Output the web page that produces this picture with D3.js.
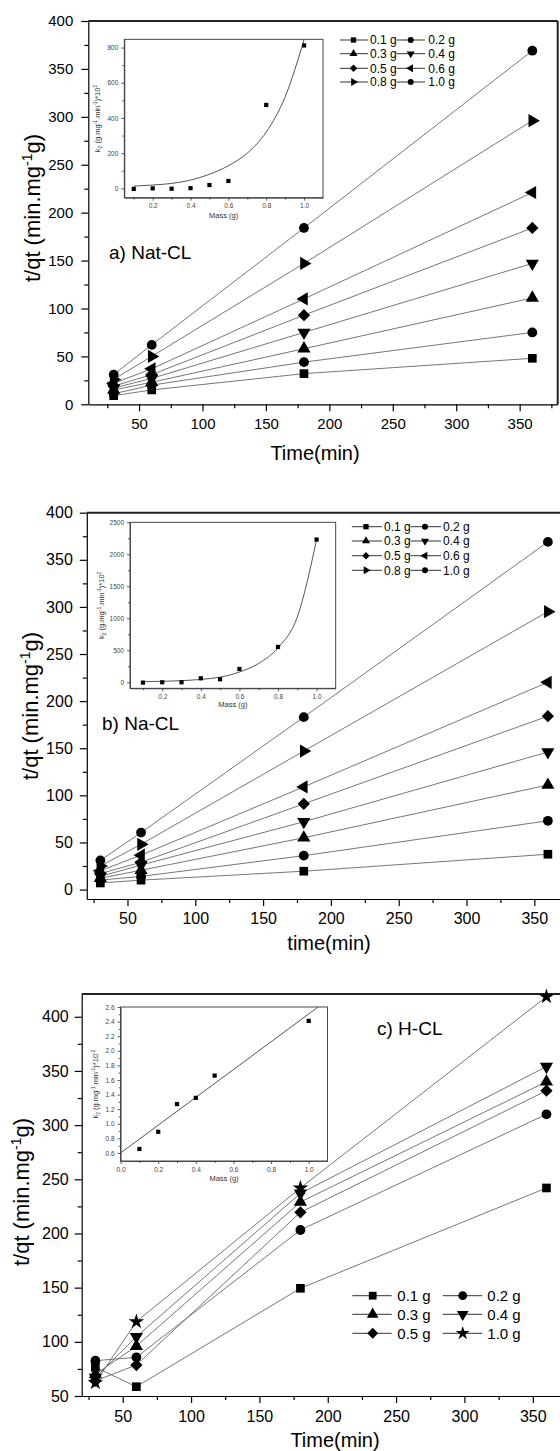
<!DOCTYPE html>
<html>
<head>
<meta charset="utf-8">
<script src="https://cdn.jsdelivr.net/npm/d3@7"></script>
<style>
  body { margin: 0; background: #fff; }
  svg { display: block; font-family: "Liberation Sans", Arial, sans-serif; }
</style>
</head>
<body>
<div id="chart"></div>
<script>
// contact times (min), shared by the three panels
const times = [30, 60, 180, 360];

// a) Nat-CL : t/qt for each adsorbent mass
const natMasses = ["0.1 g", "0.2 g", "0.3 g", "0.4 g", "0.5 g", "0.6 g", "0.8 g", "1.0 g"];
const natValues = [
  [9, 15, 32, 48],
  [11, 20, 44, 75],
  [15, 23, 58, 111],
  [17, 27, 75, 147],
  [19, 31, 93, 184],
  [22, 37, 110, 221],
  [26, 50, 147, 296],
  [31, 62, 184, 369]
];
// inset a) k2 vs mass
const natInsetMass = [0.1, 0.2, 0.3, 0.4, 0.5, 0.6, 0.8, 1.0];
const natInsetK = [-3, 0, -2, 1, 19, 42, 474, 812];
const natFitMass = [0.1, 0.2, 0.3, 0.4, 0.5, 0.6, 0.7, 0.8, 0.9, 1.0];
const natFitK = [13, 19, 28, 47, 80, 129, 200, 320, 520, 845];

// b) Na-CL
const naMasses = ["0.1 g", "0.2 g", "0.3 g", "0.4 g", "0.5 g", "0.6 g", "0.8 g", "1.0 g"];
const naValues = [
  [7, 10, 19.5, 37.5],
  [10, 14, 36, 73],
  [12, 20.5, 55, 111],
  [14, 26, 72, 146],
  [17, 29, 91, 184],
  [20, 36.5, 109, 220],
  [25, 48, 147, 295],
  [31, 60.5, 183, 369]
];
const naInsetMass = [0.1, 0.2, 0.3, 0.4, 0.5, 0.6, 0.8, 1.0];
const naInsetK = [-5, 0, 0, 62, 47, 208, 552, 2230];
const naFitMass = [0.1, 0.2, 0.3, 0.4, 0.5, 0.6, 0.7, 0.8, 0.9, 1.0];
const naFitK = [10, 15, 25, 45, 80, 160, 295, 540, 1020, 2230];

// c) H-CL
const hMasses = ["0.1 g", "0.2 g", "0.3 g", "0.4 g", "0.5 g", "1.0 g"];
const hValues = [
  [76.5, 58.6, 149.4, 242],
  [82.6, 85.7, 203.2, 310],
  [70, 96, 229, 340],
  [67, 104.7, 237, 354],
  [64, 78.6, 219.5, 331.8],
  [62.3, 118.6, 242, 418.5]
];
const hInsetMass = [0.1, 0.2, 0.3, 0.4, 0.5, 1.0];
const hInsetK = [0.655, 0.89, 1.27, 1.355, 1.66, 2.41];
const hFitMass = [0, 1.05];
const hFitK = [0.6, 2.6];

const W = 560, H = 1451;
const svg = d3.select("#chart").append("svg")
    .attr("width", W)
    .attr("height", H);

//marker path for a named shape
function marker(shape, size)
{
    let type = d3.symbolSquare, rot = 0;
    if (shape === "circle") type = d3.symbolCircle;
    else if (shape === "up") type = d3.symbolTriangle;
    else if (shape === "down") { type = d3.symbolTriangle; rot = 180; }
    else if (shape === "left") { type = d3.symbolTriangle; rot = -90; }
    else if (shape === "right") { type = d3.symbolTriangle; rot = 90; }
    else if (shape === "diamond") { type = d3.symbolSquare; rot = 45; }
    else if (shape === "star") type = d3.symbolStar;
    return {d: d3.symbol().type(type).size(size)(), rot: rot};
}

function drawMarker(g, shape, size, x, y)
{
    let m = marker(shape, size);
    g.append("path")
        .attr("d", m.d)
        .attr("transform", `translate(${x},${y}) rotate(${m.rot})`)
        .attr("fill", "#000");
}

function styleAxis(ag, fontSize)
{
    ag.attr("font-family", null).attr("font-size", fontSize);
    ag.selectAll("path, line").attr("stroke", "#000").attr("stroke-width", 1.2);
}

function drawPanel(p)
{
    let g = svg.append("g");

    let x = d3.scaleLinear().domain(p.xDomain).range(p.xRange);
    let y = d3.scaleLinear().domain(p.yDomain).range(p.yRange);
    let x0 = p.xRange[0], y0 = p.yRange[0];

    ///////// Axes
    let xa = g.append("g").attr("transform", `translate(0,${y0})`)
        .call(d3.axisBottom(x).tickValues(p.xMajor).tickSize(7).tickSizeOuter(0)
            .tickPadding(p.xPad).tickFormat(d3.format("d")));
    styleAxis(xa, p.tickFont);
    let xm = g.append("g").attr("transform", `translate(0,${y0})`)
        .call(d3.axisBottom(x).tickValues(p.xMinor).tickSize(4).tickFormat(""));
    xm.select(".domain").remove();
    styleAxis(xm, p.tickFont);

    let ya = g.append("g").attr("transform", `translate(${x0},0)`)
        .call(d3.axisLeft(y).tickValues(p.yMajor).tickSize(7).tickSizeOuter(0)
            .tickPadding(p.yPad).tickFormat(d3.format("d")));
    styleAxis(ya, p.tickFont);
    let ym = g.append("g").attr("transform", `translate(${x0},0)`)
        .call(d3.axisLeft(y).tickValues(p.yMinor).tickSize(4).tickFormat(""));
    ym.select(".domain").remove();
    styleAxis(ym, p.tickFont);

    // top and right frame
    g.append("line")
        .attr("x1", x0).attr("x2", p.xRange[1])
        .attr("y1", p.yRange[1]).attr("y2", p.yRange[1])
        .attr("stroke", "#222").attr("stroke-width", 2);
    g.append("line")
        .attr("x1", p.xRange[1]).attr("x2", p.xRange[1])
        .attr("y1", p.yRange[1]).attr("y2", y0)
        .attr("stroke", "#222").attr("stroke-width", 2);

    ///////// Axis titles
    let yt = g.append("text")
        .attr("transform", `translate(${p.yTitle[0]},${p.yTitle[1]}) rotate(-90)`)
        .attr("text-anchor", "middle")
        .attr("font-size", 22);
    yt.append("tspan").text("t/qt (min.mg");
    yt.append("tspan").attr("dy", -8).attr("font-size", 14).text("-1");
    yt.append("tspan").attr("dy", 8).text("g)");

    g.append("text")
        .attr("x", p.xTitle[0]).attr("y", p.xTitle[1])
        .attr("text-anchor", "middle")
        .attr("font-size", 20)
        .text(p.xLabel);

    g.append("text")
        .attr("x", p.tag[0]).attr("y", p.tag[1])
        .attr("font-size", 19)
        .text(p.tagText);

    ///////// Inset
    drawInset(g, p.inset);

    ///////// Series lines + markers
    let line = d3.line().x((d, i) => x(times[i])).y(d => y(d));
    p.values.forEach((vals, s) =>
    {
        g.append("path")
            .attr("d", line(vals))
            .attr("fill", "none")
            .attr("stroke", "#666")
            .attr("stroke-width", 0.9);
    });
    p.values.forEach((vals, s) =>
    {
        vals.forEach((v, i) => drawMarker(g, p.shapes[s], p.markSize, x(times[i]), y(v)));
    });

    ///////// Legend
    let L = p.legend;
    p.masses.forEach((m, i) =>
    {
        let col = i % 2, row = Math.floor(i / 2);
        let ly = L.rows[row];
        let c = L.cols[col];
        g.append("line")
            .attr("x1", c[0]).attr("x2", c[1])
            .attr("y1", ly).attr("y2", ly)
            .attr("stroke", "#333").attr("stroke-width", 1);
        drawMarker(g, p.shapes[i], L.size, c[2], ly);
        g.append("text")
            .attr("x", c[3]).attr("y", ly)
            .attr("dy", "0.35em")
            .attr("font-size", L.font)
            .text(m);
    });
}

function drawInset(g, q)
{
    let x = d3.scaleLinear().domain(q.xDomain).range(q.xRange);
    let y = d3.scaleLinear().domain(q.yDomain).range(q.yRange);
    let ig = g.append("g");

    ig.append("rect")
        .attr("x", q.xRange[0]).attr("y", q.yRange[1])
        .attr("width", q.xRange[1] - q.xRange[0])
        .attr("height", q.yRange[0] - q.yRange[1])
        .attr("fill", "#fff")
        .attr("stroke", "#333")
        .attr("stroke-width", 0.9);

    let clipId = "clip" + q.id;
    ig.append("clipPath").attr("id", clipId)
        .append("rect")
        .attr("x", q.xRange[0]).attr("y", q.yRange[1])
        .attr("width", q.xRange[1] - q.xRange[0])
        .attr("height", q.yRange[0] - q.yRange[1]);

    let fmtX = d3.format(".1f");
    let xa = ig.append("g").attr("transform", `translate(0,${q.yRange[0]})`)
        .call(d3.axisBottom(x).tickValues(q.xMajor).tickSize(3).tickSizeOuter(0).tickPadding(3).tickFormat(fmtX));
    let xm = ig.append("g").attr("transform", `translate(0,${q.yRange[0]})`)
        .call(d3.axisBottom(x).tickValues(q.xMinor).tickSize(2).tickFormat(""));
    let ya = ig.append("g").attr("transform", `translate(${q.xRange[0]},0)`)
        .call(d3.axisLeft(y).tickValues(q.yMajor).tickSize(3).tickSizeOuter(0).tickPadding(3).tickFormat(q.yFormat));
    let ym = ig.append("g").attr("transform", `translate(${q.xRange[0]},0)`)
        .call(d3.axisLeft(y).tickValues(q.yMinor).tickSize(2).tickFormat(""));
    [xm, ym].forEach(a => a.select(".domain").remove());
    [xa, xm, ya, ym].forEach(a =>
    {
        a.attr("font-family", null).attr("font-size", 6.5);
        a.selectAll("path, line").attr("stroke", "#333").attr("stroke-width", 0.8);
        a.selectAll("text").attr("fill", "#444");
    });

    // fitted curve
    let fit = d3.line()
        .x((d, i) => x(q.fitMass[i]))
        .y(d => y(d))
        .curve(d3.curveMonotoneX);
    ig.append("path")
        .attr("d", fit(q.fitK))
        .attr("clip-path", `url(#${clipId})`)
        .attr("fill", "none")
        .attr("stroke", "#555")
        .attr("stroke-width", 1);

    q.mass.forEach((m, i) =>
    {
        let s = 4.2;
        ig.append("rect")
            .attr("x", x(m) - s / 2).attr("y", y(q.k[i]) - s / 2)
            .attr("width", s).attr("height", s)
            .attr("fill", "#000");
    });

    // titles
    let cx = (q.xRange[0] + q.xRange[1]) / 2;
    ig.append("text")
        .attr("x", cx).attr("y", q.xTitleY)
        .attr("text-anchor", "middle")
        .attr("font-size", 7.5)
        .attr("fill", "#333")
        .text("Mass (g)");

    let cy = (q.yRange[0] + q.yRange[1]) / 2;
    let t = ig.append("text")
        .attr("transform", `translate(${q.yTitleX},${cy}) rotate(-90)`)
        .attr("text-anchor", "middle")
        .attr("font-size", 7.5)
        .attr("fill", "#333");
    t.append("tspan").text("k");
    t.append("tspan").attr("dy", 2).attr("font-size", 5).text("2");
    t.append("tspan").attr("dy", -2).text(" (g.mg");
    t.append("tspan").attr("dy", -3).attr("font-size", 5).text("-1");
    t.append("tspan").attr("dy", 3).text(".min");
    t.append("tspan").attr("dy", -3).attr("font-size", 5).text("-1");
    t.append("tspan").attr("dy", 3).text(")*10");
    t.append("tspan").attr("dy", -3).attr("font-size", 5).text(q.expText);
}

const shapes8 = ["square", "circle", "up", "down", "diamond", "left", "right", "circle"];
const shapes6 = ["square", "circle", "up", "down", "diamond", "star"];

drawPanel({
    values: natValues, masses: natMasses, shapes: shapes8,
    xDomain: [10, 380], xRange: [88.3, 557.7],
    yDomain: [0, 400], yRange: [404.3, 21],
    xMajor: d3.range(50, 351, 50), xMinor: d3.range(25, 376, 50),
    yMajor: d3.range(0, 401, 50), yMinor: d3.range(25, 376, 50),
    tickFont: 15, xPad: 7, yPad: 8, markSize: 75,
    yTitle: [40, 208], xTitle: [315, 460], xLabel: "Time(min)",
    tag: [109, 259], tagText: "a) Nat-CL",
    legend: {
        rows: [40, 53.7, 68.3, 82], font: 12, size: 28,
        cols: [[340, 368, 353.5, 370], [396.7, 425, 410.7, 428.3]]
    },
    inset: {
        id: "a", mass: natInsetMass, k: natInsetK, fitMass: natFitMass, fitK: natFitK,
        xDomain: [0.05, 1.1], xRange: [124.3, 323],
        yDomain: [-53, 847], yRange: [197.7, 39.3],
        xMajor: [0.2, 0.4, 0.6, 0.8, 1.0], xMinor: [0.1, 0.3, 0.5, 0.7, 0.9],
        yMajor: [0, 200, 400, 600, 800], yMinor: [100, 300, 500, 700],
        yFormat: d3.format("d"), xTitleY: 218, yTitleX: 100, expText: "2"
    }
});

drawPanel({
    values: naValues, masses: naMasses, shapes: shapes8,
    xDomain: [20, 380], xRange: [86.8, 575],
    yDomain: [-10, 400], yRange: [899, 512.7],
    xMajor: d3.range(50, 351, 50), xMinor: d3.range(25, 376, 50),
    yMajor: d3.range(0, 401, 50), yMinor: d3.range(25, 376, 50),
    tickFont: 16, xPad: 7, yPad: 7, markSize: 75,
    yTitle: [38, 706], xTitle: [329, 950], xLabel: "time(min)",
    tag: [102, 730], tagText: "b) Na-CL",
    legend: {
        rows: [526.7, 541, 555.7, 570.3], font: 12, size: 28,
        cols: [[351.8, 382, 366, 384], [410.7, 441, 425, 443]]
    },
    inset: {
        id: "b", mass: naInsetMass, k: naInsetK, fitMass: naFitMass, fitK: naFitK,
        xDomain: [0.033, 1.099], xRange: [130, 335.7],
        yDomain: [-94, 2500], yRange: [688.3, 522.3],
        xMajor: [0.2, 0.4, 0.6, 0.8, 1.0], xMinor: [0.1, 0.3, 0.5, 0.7, 0.9],
        yMajor: [0, 500, 1000, 1500, 2000, 2500], yMinor: [250, 750, 1250, 1750, 2250],
        yFormat: d3.format("d"), xTitleY: 707, yTitleX: 104, expText: "2"
    }
});

drawPanel({
    values: hValues, masses: hMasses, shapes: shapes6,
    xDomain: [20, 380], xRange: [81.7, 573.8],
    yDomain: [50, 421], yRange: [1396, 994],
    xMajor: d3.range(50, 351, 50), xMinor: d3.range(25, 376, 50),
    yMajor: d3.range(50, 401, 50), yMinor: d3.range(75, 401, 50),
    tickFont: 16, xPad: 8, yPad: 6, markSize: 75,
    yTitle: [29, 1192], xTitle: [335, 1447], xLabel: "Time(min)",
    tag: [377, 1035], tagText: "c) H-CL",
    legend: {
        rows: [1295.7, 1314.3, 1333.3], font: 15, size: 60,
        cols: [[352.3, 391.7, 372.7, 397.3], [442.7, 482.3, 462.7, 487.3]]
    },
    inset: {
        id: "c", mass: hInsetMass, k: hInsetK, fitMass: hFitMass, fitK: hFitK,
        xDomain: [0, 1.1], xRange: [120.6, 327.5],
        yDomain: [0.49, 2.6], yRange: [1161, 1007],
        xMajor: [0, 0.2, 0.4, 0.6, 0.8, 1.0], xMinor: [0.1, 0.3, 0.5, 0.7, 0.9],
        yMajor: d3.range(0.6, 2.61, 0.2), yMinor: d3.range(0.7, 2.6, 0.2),
        yFormat: d3.format(".1f"), xTitleY: 1181, yTitleX: 98, expText: "-2"
    }
});
</script>
</body>
</html>
